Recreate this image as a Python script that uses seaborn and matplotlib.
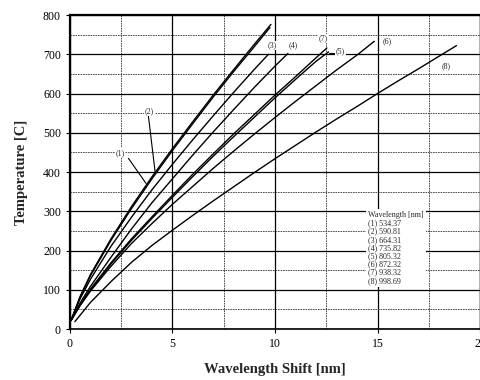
import matplotlib
matplotlib.use("Agg")
import matplotlib.pyplot as plt
import seaborn as sns
import pandas as pd
from matplotlib.ticker import MultipleLocator

# ---- data ----
curve_ids = ["(1)", "(2)", "(3)", "(4)", "(5)", "(6)", "(7)", "(8)"]
wavelengths = [534.37, 590.81, 664.31, 735.82, 805.32, 872.32, 938.32, 998.69]

x1 = [0.05, 0.5, 1, 2, 3, 4, 5, 6, 7, 8, 9, 9.8]
y1 = [22, 84, 139, 230, 312, 388, 460, 529, 597, 662, 726, 776]

x2 = [0.05, 0.5, 1, 2, 3, 4, 5, 6, 7, 8, 9, 9.75]
y2 = [22, 82, 136, 226, 307, 383, 455, 524, 592, 657, 720, 768]

x3 = [0.05, 0.5, 1, 2, 3, 4, 5, 6, 7, 8, 9, 9.68]
y3 = [22, 78, 127, 211, 285, 355, 420, 483, 544, 604, 662, 700]

x4 = [0.05, 0.5, 1, 2, 3, 4, 5, 6, 7, 8, 9, 10, 10.63]
y4 = [22, 67, 109, 183, 255, 322, 383, 444, 503, 560, 616, 670, 702]

x5 = [0.05, 0.5, 1, 2, 3, 4, 5, 6, 7, 8, 9, 10, 11, 12, 12.61]
y5 = [22, 62, 100, 166, 226, 282, 336, 389, 441, 491, 540, 589, 636, 682, 706]

x6 = [0.05, 0.5, 1, 2, 3, 4, 5, 6, 7, 8, 9, 10, 11, 12, 13, 14, 14.84]
y6 = [22, 60, 97, 160, 218, 269, 318, 364, 410, 454, 497, 539, 580, 620, 660, 698, 733]

x7 = [0.05, 0.5, 1, 2, 3, 4, 5, 6, 7, 8, 9, 10, 11, 12, 12.53]
y7 = [22, 63, 102, 169, 230, 286, 341, 395, 447, 498, 547, 596, 643, 691, 716]

x8 = [0.24, 1, 2, 3, 4, 5, 6, 7, 8, 9, 10, 11, 12, 13, 14, 15, 16, 17, 18, 18.85]
y8 = [19, 68, 121, 170, 213, 252, 290, 327, 363, 399, 434, 468, 502, 535, 567, 600, 632, 663, 695, 722]

xs = [x1, x2, x3, x4, x5, x6, x7, x8]
ys = [y1, y2, y3, y4, y5, y6, y7, y8]

# label positions (data coords) for curve tags
label_x = [2.44, 3.87, 9.88, 10.9, 13.2, 15.46, 12.37, 18.35]
label_y = [449, 555, 722, 722, 708, 734, 740, 670]

x_ticks = [0, 5, 10, 15, 20]
y_ticks = [0, 100, 200, 300, 400, 500, 600, 700, 800]

frames = []
for cid, xv, yv in zip(curve_ids, xs, ys):
    frames.append(pd.DataFrame({"shift": xv, "temp": yv, "curve": cid}))
df = pd.concat(frames, ignore_index=True)

sns.set_style("ticks")
plt.rcParams["font.family"] = ["Liberation Serif", "DejaVu Serif"]

fig = plt.figure(figsize=(4.81, 3.80), dpi=100)
ax = fig.add_axes([0.1455, 0.134, 0.8525, 0.8265])

sns.lineplot(data=df, x="shift", y="temp", hue="curve",
             palette={c: "black" for c in curve_ids}, legend=False,
             linewidth=1.0, sort=False, estimator=None, ax=ax, zorder=3)

ax.set_xlim(0, 20)
ax.set_ylim(0, 800)
ax.set_xticks(x_ticks)
ax.set_yticks(y_ticks)
ax.xaxis.set_minor_locator(MultipleLocator(2.5))
ax.yaxis.set_minor_locator(MultipleLocator(50))
ax.grid(which="major", color="black", linewidth=0.9, linestyle="-", zorder=1)
ax.grid(which="minor", color="#333333", linewidth=0.6, linestyle=(0, (2, 1)), zorder=1)
ax.tick_params(which="minor", length=0)
ax.tick_params(which="major", length=3, width=0.8, labelsize=8.5, colors="black")
for s in ax.spines.values():
    s.set_color("black")
ax.spines["left"].set_linewidth(1.6)
ax.spines["top"].set_linewidth(1.6)
ax.spines["bottom"].set_linewidth(1.2)
ax.spines["right"].set_linewidth(1.0)

ax.set_xlabel("Wavelength Shift [nm]", fontsize=10.5, fontweight="bold", labelpad=9)
ax.set_ylabel("Temperature [C]", fontsize=10.5, fontweight="bold", labelpad=11)

for cid, lx, ly in zip(curve_ids, label_x, label_y):
    ax.text(lx, ly, cid, fontsize=5.8, ha="center", va="center", zorder=5,
            bbox=dict(facecolor="white", edgecolor="none", pad=0.5))

# leader lines for (1), (2), (5)
ax.plot([2.85, 3.71], [435, 371], color="black", linewidth=0.8, zorder=4)
ax.plot([3.82, 4.15], [545, 401], color="black", linewidth=0.8, zorder=4)
ax.plot([12.62, 12.9], [702, 702], color="black", linewidth=0.8, zorder=4)

legend_text = "Wavelength [nm]\n" + "\n".join(
    f"{cid} {w:.2f}" for cid, w in zip(curve_ids, wavelengths))
ax.text(14.55, 300, legend_text, fontsize=5.8, ha="left", va="top",
        linespacing=1.03, zorder=5,
        bbox=dict(facecolor="white", edgecolor="none", pad=1.5))

fig.savefig("out.png", dpi=100)
